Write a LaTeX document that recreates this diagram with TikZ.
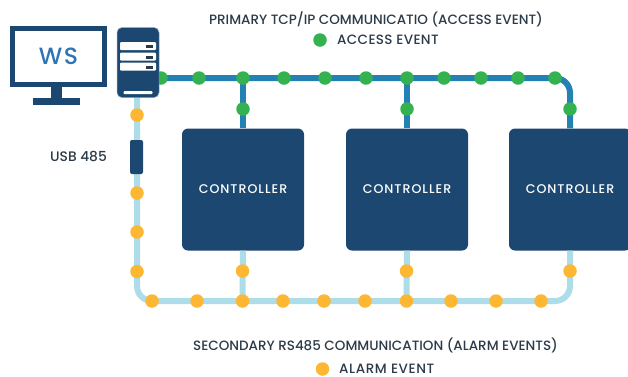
\documentclass[tikz,border=0pt]{standalone}
\usepackage{fontspec}
\setmainfont{Poppins Medium}
\definecolor{navy}{HTML}{1B4770}
\definecolor{pline}{HTML}{2481B3}
\definecolor{sline}{HTML}{AEDDEA}
\definecolor{gdot}{HTML}{33B24F}
\definecolor{odot}{HTML}{FDB733}
\definecolor{ink}{HTML}{2C3B49}
\definecolor{wsblue}{HTML}{2F75B5}
\tikzset{
 gd/.style={circle,fill=gdot,draw=none,minimum size=13.5pt,inner sep=0pt},
 od/.style={circle,fill=odot,draw=none,minimum size=13.5pt,inner sep=0pt},
 ctrl/.style={rectangle,rounded corners=6pt,fill=navy,draw=none,minimum width=122pt,minimum height=122pt,inner sep=0pt,text=white,font=\fontsize{12.6}{14}\selectfont\addfontfeatures{LetterSpace=8}},
 plink/.style={draw=pline,line width=6pt},
 slink/.style={draw=sline,line width=6pt},
 lab/.style={text=ink,font=\fontsize{13.5}{15}\selectfont,inner sep=0pt},
 slot/.style={fill=white,rounded corners=1pt,draw=none},
 led/.style={fill=ink,draw=none},
}
\begin{document}
\begin{tikzpicture}[x=1pt,y=-1pt]
\useasboundingbox (0,0) rectangle (628,376);
\clip (0,0) rectangle (628,376);
% controllers
\node[ctrl] (c1) at (243,189.5) {CONTROLLER};
\node[ctrl] (c2) at (407,189.5) {CONTROLLER};
\node[ctrl] (c3) at (570,189.5) {CONTROLLER};
% anchors
\coordinate (pstart) at (150,78);
\coordinate (pturn) at (570,78);
\coordinate (j1) at (243,78);
\coordinate (j2) at (407,78);
\coordinate (sstart) at (137,90);
\coordinate (sturn) at (137,301);
\coordinate (sturn2) at (570,301);
\coordinate (k1) at (242.5,301);
\coordinate (k2) at (406.5,301);
% secondary
\draw[slink,rounded corners=15pt] (sstart) -- (sturn) -- (sturn2) -- (c3.south);
\draw[slink] (c1.south) -- (k1);
\draw[slink] (c2.south) -- (k2);
% primary
\draw[plink,rounded corners=15pt] (pstart) -- (pturn) -- (c3.north);
\draw[plink] (j1) -- (c1.north);
\draw[plink] (j2) -- (c2.north);
% green dots
\foreach \n/\x/\y in {g0/161/78,g1/199/78,g2/243/78,g3/284/78,g4/325/78,g5/366/78,g6/407/78,g7/444/78,g8/481/78,g9/518/78,g10/555/78,g11/570/109,g12/243/109,g13/407/109}
  \node[gd] (\n) at (\x,\y) {};
% orange dots
\foreach \n/\x/\y in {o1/137/115,o2/137/193,o3/137/232,o4/137/271.5,o5/152/301,o6/197/301,o7/242.5/301,o8/283/301,o9/324/301,o10/365/301,o11/406.5/301,o12/451/301,o13/496/301,o14/541/301,o15/242.5/271,o16/406.5/271,o17/570/271}
  \node[od] (\n) at (\x,\y) {};
% USB dongle
\node[rectangle,rounded corners=2pt,fill=navy,minimum width=13pt,minimum height=34pt,inner sep=0pt] (usb) at (136.5,157) {};
\node[lab,anchor=center,font=\fontsize{13.8}{15}\selectfont] (usblab) at (78.5,156) {USB 485};
% workstation
\fill[navy] (51,85) rectangle (62,99);
\fill[navy] (33,98) rectangle (80,105);
\node[rectangle,draw=navy,line width=5pt,fill=white,minimum width=92pt,minimum height=56pt,inner sep=0pt,text=wsblue,font=\fontsize{23.5}{25}\selectfont\addfontfeatures{LetterSpace=6}] (ws) at (58.5,56.5) {WS};
% server
\node[rectangle,rounded corners=5pt,fill=navy,draw=navy!50!white,line width=0.5pt,minimum width=42pt,minimum height=70pt,inner sep=0pt] (srv) at (138,62.5) {};
\foreach \t in {42,52.5,62.5}{
  \fill[slot] (120,\t) rectangle (156,\t+8);
  \fill[led] (146,\t+3) rectangle (153,\t+6);
}
\fill[white,rounded corners=1pt] (123.5,91) rectangle (152.5,94);
% labels
\node[lab] (t1) at (376,19) {PRIMARY TCP/IP COMMUNICATIO (ACCESS EVENT)};
\node[gd] (lg) at (320,40) {};
\node[lab,anchor=west,font=\fontsize{13.5}{15}\selectfont\addfontfeatures{LetterSpace=2.5}] (t2) at (337,40) {ACCESS EVENT};
\node[lab] (t3) at (375.5,345) {SECONDARY RS485 COMMUNICATION (ALARM EVENTS)};
\node[od] (lo) at (322.5,369) {};
\node[lab,anchor=west,font=\fontsize{13.5}{15}\selectfont\addfontfeatures{LetterSpace=4.5}] (t4) at (339,368.5) {ALARM EVENT};
\end{tikzpicture}
\end{document}
